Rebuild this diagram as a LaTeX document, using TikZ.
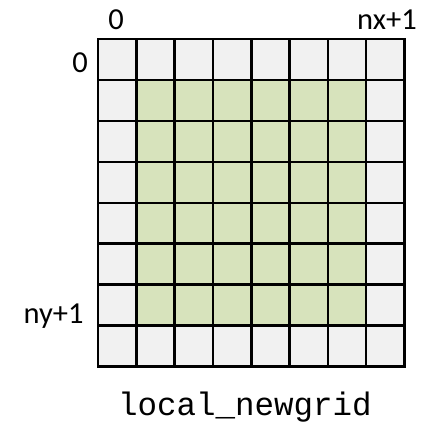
\documentclass[tikz,border=0pt]{standalone}
\usepackage{fontspec}
\setmainfont{Carlito}
\newfontfamily\codefont{Liberation Mono}
\definecolor{halo}{HTML}{F1F1F1}
\definecolor{inner}{HTML}{D7E3BC}
\begin{document}
\begin{tikzpicture}[x=1pt,y=-1pt,
  idx/.style={font=\fontsize{30.5}{36}\selectfont, anchor=base, inner sep=0pt},
  gridline/.style={line width=2.6pt, line cap=rect}]
\useasboundingbox (0,0) rectangle (436,424);
% cell geometry: 8 columns x 8 rows
\def\gx{98}\def\gy{39}\def\cw{38.3}\def\ch{40.95}
% ghost layer (outer ring) and interior cells
\fill[halo] (\gx,\gy) rectangle ({\gx+8*\cw},{\gy+8*\ch});
\fill[inner] ({\gx+\cw},{\gy+\ch}) rectangle ({\gx+7*\cw},{\gy+7*\ch});
% grid lines
\foreach \i in {0,...,8} {
  \draw[gridline] ({\gx+\i*\cw},\gy) -- ({\gx+\i*\cw},{\gy+8*\ch});
  \draw[gridline] (\gx,{\gy+\i*\ch}) -- ({\gx+8*\cw},{\gy+\i*\ch});
}
% index labels
\node[idx] (x0) at (116,29) {0};
\node[idx] (xn) at (387,29) {nx+1};
\node[idx] (y0) at (80,72) {0};
\node[idx] (yn) at (53.5,323) {ny+1};
% caption
\node[anchor=base, inner sep=0pt, font=\codefont\fontsize{32.5}{38}\selectfont] (cap) at (245,415) {local\_newgrid};
\end{tikzpicture}
\end{document}
